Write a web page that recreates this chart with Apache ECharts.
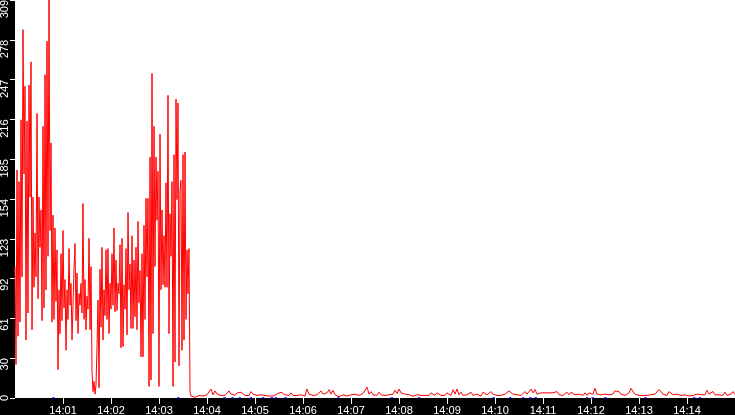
<!DOCTYPE html>
<html>
<head>
<meta charset="utf-8">
<title>traffic</title>
<script src="https://cdn.jsdelivr.net/npm/echarts@6.0.0/dist/echarts.min.js"></script>
<style>
    html, body { margin: 0; padding: 0; background: #000; }
    #traffic { width: 735px; height: 415px; }
</style>
</head>
<body>
<div id="traffic"></div>
<script>
// x axis is seconds after 14:00
var xTickSeconds = [60, 120, 180, 240, 300, 360, 420, 480, 540, 600, 660, 720, 780, 840];
var xTickLabels = ['14:01', '14:02', '14:03', '14:04', '14:05', '14:06', '14:07',
                   '14:08', '14:09', '14:10', '14:11', '14:12', '14:13', '14:14'];
var yTickLabels = ['0', '30', '61', '92', '123', '154', '185', '216', '247', '278', '309'];

// busy part, one sample every 1.25 s (14:00:00 - 14:03:39)
var busyStep = 1.25;
var busyValues = [
    102, 26, 177, 48, 168, 59, 216, 94, 286, 174,
    242, 45, 215, 66, 243, 156, 261, 53, 156, 86,
    128, 94, 221, 77, 156, 117, 146, 60, 211, 70,
    251, 84, 277, 110, 309, 130, 198, 59, 142, 61,
    132, 75, 115, 22, 84, 50, 112, 60, 130, 70,
    92, 37, 84, 61, 116, 72, 89, 45, 72, 100,
    120, 60, 97, 50, 81, 72, 89, 66, 151, 61,
    92, 53, 79, 69, 124, 53, 102, 21, 5, 13,
    3, 10, 40, 76, 8, 100, 55, 117, 45, 84,
    64, 115, 61, 116, 50, 89, 69, 112, 72, 132,
    67, 107, 68, 89, 81, 119, 39, 124, 40, 88,
    69, 116, 49, 144, 84, 104, 54, 126, 54, 107,
    63, 117, 53, 137, 74, 99, 32, 112, 32, 134,
    61, 155, 94, 155, 9, 187, 14, 252, 50, 211,
    102, 187, 138, 176, 9, 205, 84, 146, 88, 126,
    86, 167, 86, 235, 50, 143, 110, 168, 9, 189,
    28, 232, 154, 229, 25, 161, 169, 37, 189, 45,
    191, 61, 115, 81, 116, 5
];

// quiet part, one sample every 2.5 s (14:03:40 - 14:15:00)
var quietStart = 220;
var quietStep = 2.5;
var quietValues = [
    1.5, 1, 0.5, 1, 2, 2, 1.5, 2, 2.5, 4,
    7, 2.5, 5.5, 3, 4.5, 2, 3, 2, 2.5, 5.5,
    3, 1.5, 2, 4, 2.5, 4.5, 3, 2, 1.5, 2,
    5, 3, 2.5, 2, 1.5, 2.5, 3, 2, 1, 1.5,
    2, 1.5, 2.5, 3, 2, 4.5, 3, 2.5, 3.5, 2,
    4, 2, 2.5, 2, 3, 2.5, 2, 1.5, 7, 3,
    2.5, 2, 3, 2.5, 2, 5.5, 3, 2.5, 4, 6.5,
    3, 6, 2.5, 2, 1, 2, 2.5, 2, 1.5, 2,
    2.5, 2, 3, 4, 2, 2.5, 3.5, 5, 8.5, 3,
    5, 2.5, 3, 2, 4.5, 2.5, 3, 2, 1.5, 2.5,
    2, 3, 6, 3.5, 7, 4, 2.5, 3, 4, 2.5,
    2, 1.5, 2, 2.5, 1, 2, 2.5, 2, 3, 2,
    4, 2.5, 2, 4, 3, 2, 2.5, 2, 4, 2.5,
    2, 6.5, 3, 7, 2.5, 4.5, 2, 3.5, 2.5, 2,
    4.5, 2, 2.5, 3, 2, 1.5, 4.5, 3, 2.5, 2,
    5, 3, 2.5, 2, 3, 2, 2.5, 3, 2, 5.5,
    4, 3, 2, 2.5, 3, 2, 2.5, 5, 3, 2.5,
    7, 4, 6.5, 3, 2.5, 4, 4, 4, 4, 4,
    4, 4, 3.5, 5, 2.5, 3, 2, 2.5, 4.5, 2.5,
    4.5, 3, 2.5, 2, 3, 2.5, 2, 4, 2, 4,
    2.5, 3, 7.5, 3, 2, 2.5, 2, 3, 2, 2.5,
    2.5, 3, 5.5, 4, 5, 3, 2.5, 2, 3, 4,
    7.5, 5, 3, 2.5, 2, 1.5, 2, 2.5, 2, 3,
    2.5, 2, 3, 2.5, 6.5, 6, 3, 2.5, 2, 5,
    4.5, 2.5, 2, 3, 2.5, 2, 3, 2.5, 2, 1.5,
    2.5, 2, 2.5, 3, 4.5, 2.5, 2, 2.5, 6, 3,
    2, 5, 2.5, 2, 2.5, 3, 2, 4.5, 2, 2.5,
    3, 5, 2.5
];

// blue series: flat on zero apart from these short blips
var blueBlipSeconds = [48, 204, 262, 272, 281, 295, 310, 321, 326, 338, 404, 471,
                       505, 598, 619, 635, 644, 651, 715, 722, 738, 788, 849, 856];
var blueBlipValues = [1, 1, 1, 1, 1, 1, 1, 1, 1, 1, 1, 1,
                      1, 1, 1, 1, 1, 1, 1, 1, 1, 1, 1, 1];

function traffic(){
    var redData = [];
    for (var i = 0; i < busyValues.length; i++) {
        redData.push([i * busyStep, busyValues[i]]);
    }
    for (var j = 0; j < quietValues.length; j++) {
        redData.push([quietStart + j * quietStep, quietValues[j]]);
    }

    var blueData = [];
    for (var k = 0; k < blueBlipSeconds.length; k++) {
        var t = blueBlipSeconds[k];
        blueData.push([t - 1.5, 0]);
        blueData.push([t, blueBlipValues[k]]);
        blueData.push([t + 1.5, 0]);
        blueData.push([t + 2, '-']);
    }

    trafficOption = {
        backgroundColor: '#000',
        animation: false,
        grid: {
            left: 15,
            right: 0,
            top: 0,
            bottom: 17,
            containLabel: false,
            outerBoundsMode: 'none',
            show: true,
            backgroundColor: '#fff',
            borderWidth: 0
        },
        xAxis: {
            type: 'value',
            min: 0,
            max: 900,
            interval: 60,
            splitLine: {show: false},
            axisLine: {show: false},
            axisTick: {
                show: true,
                length: 6,
                customValues: xTickSeconds,
                lineStyle: {color: '#fff', width: 1}
            },
            axisLabel: {
                color: '#fff',
                fontFamily: 'Liberation Sans',
                fontSize: 11,
                margin: 7,
                hideOverlap: false,
                customValues: xTickSeconds,
                formatter: function(value){
                    var idx = xTickSeconds.indexOf(Math.round(value));
                    return idx < 0 ? '' : xTickLabels[idx];
                }
            }
        },
        yAxis: {
            type: 'value',
            min: 0,
            max: 309,
            interval: 30.9,
            splitLine: {show: false},
            axisLine: {show: false},
            axisTick: {
                show: true,
                length: 5,
                lineStyle: {color: '#fff', width: 1}
            },
            axisLabel: {
                rotate: 90,
                align: 'right',
                verticalAlign: 'middle',
                alignMinLabel: 'center',
                margin: 10,
                color: '#fff',
                fontFamily: 'Liberation Sans',
                fontSize: 11,
                formatter: function(value){
                    return yTickLabels[Math.round(value / 30.9)];
                }
            }
        },
        series: [
            {
                name: 'red',
                type: 'line',
                symbol: 'none',
                clip: true,
                lineStyle: {color: '#ff0000', width: 1},
                data: redData
            },
            {
                name: 'blue',
                type: 'line',
                symbol: 'none',
                clip: true,
                connectNulls: false,
                lineStyle: {color: '#0000ff', width: 1.5},
                data: blueData
            }
        ]
    };

    var trafficChart = echarts.init(document.getElementById('traffic'));
    trafficChart.setOption(trafficOption);
}

traffic();
</script>
</body>
</html>
